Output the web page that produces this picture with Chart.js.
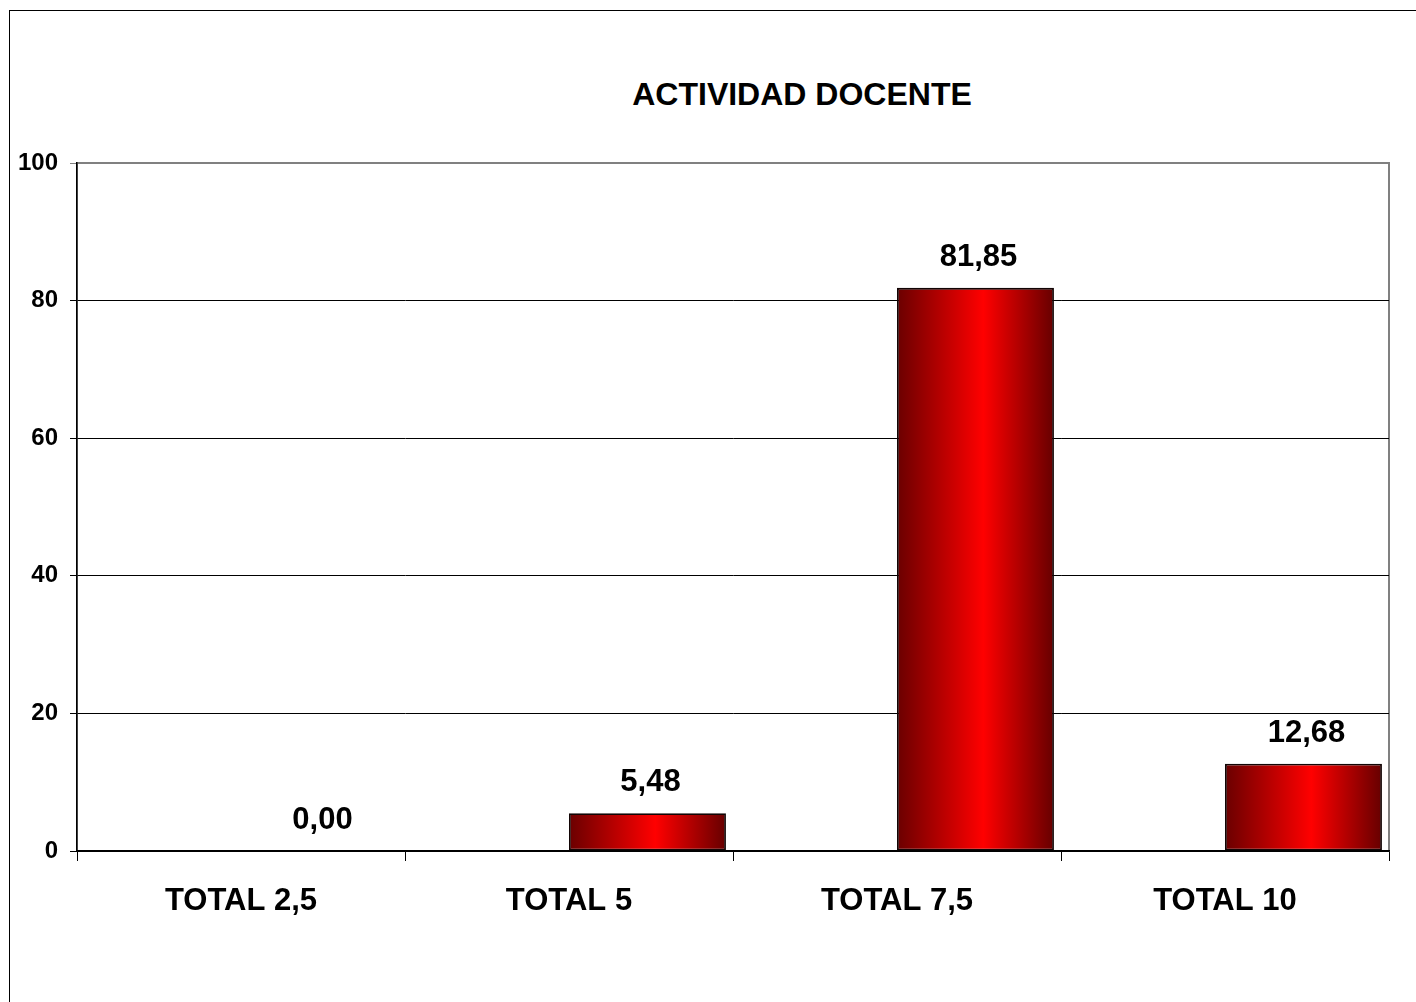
<!DOCTYPE html>
<html>
<head>
<meta charset="utf-8">
<script src="https://cdn.jsdelivr.net/npm/chart.js@4.4.1/dist/chart.umd.min.js"></script>
<style>
  html, body { margin: 0; padding: 0; background: #fff; overflow: hidden; }
  #wrap { position: relative; width: 1416px; height: 1002px; }
  #marco { position: absolute; left: 9px; top: 10px; width: 2000px; height: 2000px; border: 1px solid #000; }
  #titulo {
    position: absolute; left: 302px; top: 76px; width: 1000px; text-align: center;
    font: bold 32px "Liberation Sans", Arial, sans-serif; line-height: 36px; color: #000;
  }
  canvas { position: absolute; left: 0; top: 0; }
</style>
</head>
<body>
<div id="wrap">
  <div id="marco"></div>
  <div id="titulo">ACTIVIDAD DOCENTE</div>
  <canvas id="grafico" width="1416" height="1002"></canvas>
</div>
<script>
// --- datos ---
const categorias = ['TOTAL 2,5', 'TOTAL 5', 'TOTAL 7,5', 'TOTAL 10'];
const serieVacia = [null, null, null, null];
const porcentajes = [0.00, 5.48, 81.85, 12.68];
const ticksY = [0, 20, 40, 60, 80, 100];

const fuente = '"Liberation Sans", Arial, sans-serif';

function formatoComa(v) {
    return v.toFixed(2).replace('.', ',');
}

// marco gris del area de trazado
const marcoPlot = {
    id: 'marcoPlot',
    beforeDraw(chart) {
        const a = chart.chartArea;
        const ctx = chart.ctx;
        ctx.save();
        ctx.strokeStyle = '#808080';
        ctx.lineWidth = 2;
        ctx.strokeRect(a.left, a.top, a.right - a.left, a.bottom - a.top);
        ctx.restore();
    }
};

// degradado horizontal en cada barra
const degradado = {
    id: 'degradado',
    beforeDatasetsDraw(chart) {
        const ctx = chart.ctx;
        chart.getDatasetMeta(1).data.forEach(el => {
            const x0 = el.x - el.width / 2;
            const x1 = el.x + el.width / 2;
            const g = ctx.createLinearGradient(x0, 0, x1, 0);
            g.addColorStop(0, '#6a0000');
            g.addColorStop(0.55, '#ff0000');
            g.addColorStop(1, '#660000');
            el.options = Object.assign({}, el.options, { backgroundColor: g });
        });
    }
};

// etiquetas de valor encima de cada barra
const etiquetas = {
    id: 'etiquetas',
    afterDatasetsDraw(chart) {
        const ctx = chart.ctx;
        ctx.save();
        ctx.font = 'bold 31px ' + fuente;
        ctx.fillStyle = '#000';
        ctx.textAlign = 'center';
        ctx.textBaseline = 'alphabetic';
        chart.getDatasetMeta(1).data.forEach((el, i) => {
            ctx.fillText(formatoComa(porcentajes[i]), el.x + 3, el.y - 22);
        });
        ctx.restore();
    }
};

new Chart(document.getElementById('grafico').getContext('2d'), {
    type: 'bar',
    data: {
        labels: categorias,
        datasets: [
            { data: serieVacia },
            {
                data: porcentajes,
                backgroundColor: '#ff0000',
                borderColor: '#120505',
                borderWidth: 1.8,
                borderSkipped: false
            }
        ]
    },
    options: {
        responsive: false,
        animation: false,
        categoryPercentage: 0.957,
        barPercentage: 1,
        layout: { padding: { top: 163, right: 27, left: 0, bottom: 0 } },
        plugins: {
            legend: { display: false },
            tooltip: { enabled: false },
            title: { display: false }
        },
        scales: {
            x: {
                afterFit: s => { s.height = 151; },
                grid: {
                    drawOnChartArea: false,
                    tickLength: 10,
                    color: '#000',
                    offset: true
                },
                border: { color: '#000', width: 1.5 },
                ticks: {
                    color: '#000',
                    padding: 22,
                    maxRotation: 0,
                    font: { family: fuente, size: 31, weight: 'bold' }
                }
            },
            y: {
                min: 0,
                max: 100,
                afterFit: s => { s.width = 77; },
                afterBuildTicks: s => { s.ticks = ticksY.map(v => ({ value: v })); },
                grid: {
                    tickLength: 7,
                    color: c => (c.tick && c.tick.value === 100) ? '#808080' : '#000',
                    lineWidth: 1
                },
                border: { color: '#000', width: 1.5 },
                ticks: {
                    color: '#000',
                    padding: 12,
                    font: { family: fuente, size: 24, weight: 'bold' }
                }
            }
        }
    },
    plugins: [marcoPlot, degradado, etiquetas]
});
</script>
</body>
</html>
